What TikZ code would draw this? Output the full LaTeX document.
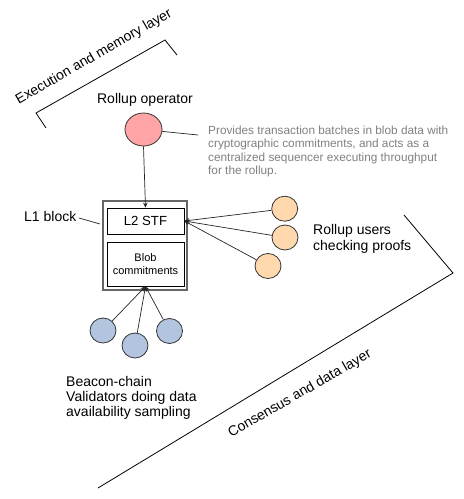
\documentclass[tikz,border=0pt]{standalone}
\usepackage{fontspec}
\setmainfont{Liberation Sans}
\usetikzlibrary{shapes.geometric,arrows.meta}
\definecolor{redfill}{HTML}{FFA5A8}
\definecolor{peach}{HTML}{FFD9AD}
\definecolor{bluefill}{HTML}{B3C5DE}
\definecolor{graytext}{HTML}{808080}
\begin{document}
\begin{tikzpicture}[x=1pt,y=-1pt,
  lbl/.style={font=\fontsize{14}{15.3}\selectfont, align=left, inner sep=0pt},
  note/.style={font=\fontsize{11.8}{13.6}\selectfont, text=graytext, align=left, inner sep=0pt},
  dot/.style={ellipse, draw=black!80, line width=0.8pt, inner sep=0pt, minimum width=26pt, minimum height=25pt},
  box/.style={draw=black, line width=0.8pt, inner sep=0pt, align=center},
  conn/.style={draw=black!85, line width=0.7pt},
  arr/.style={conn, -{Stealth[length=5pt,width=4.5pt]}},
  bracket/.style={draw=black, line width=0.8pt}
]
\useasboundingbox (0,0) rectangle (464,499);

% top bracket: execution and memory layer
\coordinate (ea) at (46,128);
\coordinate (eb) at (36,113);
\coordinate (ec) at (165,40);
\coordinate (ed) at (177,55);
\draw[bracket] (ea) -- (eb) -- (ec) -- (ed);
\node[lbl, rotate=30] (exec) at (94,57) {Execution and memory layer};

% bottom bracket: consensus and data layer
\coordinate (ca) at (404,215);
\coordinate (cb) at (453,273);
\coordinate (cc) at (98,488);
\draw[bracket] (ca) -- (cb) -- (cc);
\node[lbl, rotate=30] (cons) at (300,394) {Consensus and data layer};

% rollup operator
\node[lbl, anchor=base] (opl) at (145,103) {Rollup operator};
\node[ellipse, draw=black!80, line width=0.8pt, fill=redfill, inner sep=0pt,
      minimum width=37pt, minimum height=33pt] (op) at (143.5,129.5) {};
\node[note, anchor=west] (desc) at (208,151.5) {Provides transaction batches in blob data with\\cryptographic commitments, and acts as a\\centralized sequencer executing throughput\\for the rollup.};
\coordinate (descpt) at (198,135);
\draw[conn] (op) -- (descpt);

% L1 block
\node[draw=black!60, line width=1.2pt, minimum width=84pt, minimum height=89pt, inner sep=0pt] (l1) at (145,245.5) {};
\node[box, minimum width=77pt, minimum height=26pt, font=\fontsize{13.2}{15}\selectfont] (stf) at (145.5,221) {L2 STF};
\node[box, minimum width=77pt, minimum height=44pt, font=\fontsize{11}{13}\selectfont] (blob) at (145.5,264) {Blob\\commitments};
\node[lbl, anchor=base west] (l1l) at (24,221) {L1 block};
\coordinate (l1a) at (79,218);
\coordinate (l1b) at (100,224);
\draw[conn] (l1a) -- (l1b);

\draw[arr] (op.south) -- (stf.north);

% rollup users
\node[dot, fill=peach] (u1) at (284.7,208.7) {};
\node[dot, fill=peach] (u2) at (285,237.5) {};
\node[dot, fill=peach] (u3) at (268,266) {};
\draw[arr] (u1) -- (stf.east);
\draw[arr] (u2) -- (stf.east);
\draw[arr] (u3) -- (stf.east);
\node[lbl, anchor=west] (ul) at (313,239) {Rollup users\\checking proofs};

% validators
\node[dot, fill=bluefill] (v1) at (103,330.5) {};
\node[dot, fill=bluefill] (v2) at (135,345.5) {};
\node[dot, fill=bluefill] (v3) at (169.5,331) {};
\draw[arr] (v1) -- (blob.south);
\draw[arr] (v2) -- (blob.south);
\draw[arr] (v3) -- (blob.south);
\node[lbl, anchor=west] (vl) at (66,398) {Beacon-chain\\Validators doing data\\availability sampling};
\end{tikzpicture}
\end{document}
